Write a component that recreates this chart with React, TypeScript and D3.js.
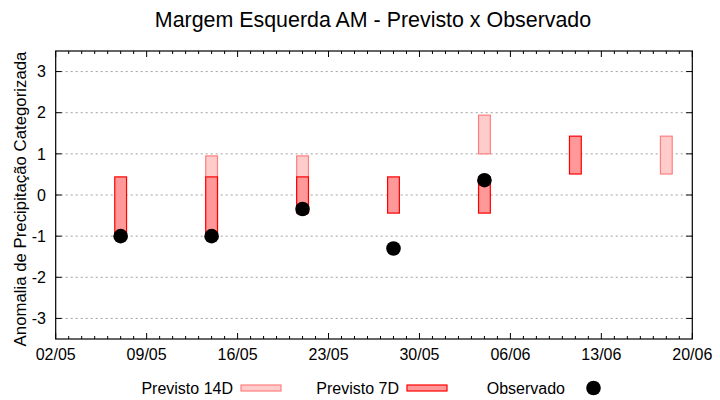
import * as d3 from 'd3';
import React from 'react';

const dates = ['2024-05-07', '2024-05-14', '2024-05-21', '2024-05-28', '2024-06-04', '2024-06-11', '2024-06-18'];
const previsto14Low: (number | null)[] = [null, -1, -0.44, null, 1.0, null, 0.51];
const previsto14High: (number | null)[] = [null, 0.95, 0.95, null, 1.94, null, 1.43];
const previsto7Low: (number | null)[] = [-1, -1, -0.44, -0.44, -0.44, 0.51, null];
const previsto7High: (number | null)[] = [0.44, 0.44, 0.44, 0.44, 0.44, 1.43, null];
const observado: (number | null)[] = [-1, -1, -0.34, -1.3, 0.36, null, null];
const yTickValues = [-3, -2, -1, 0, 1, 2, 3];
const xStart = '2024-05-02';
const xEnd = '2024-06-20';

const FONT = '"Liberation Sans", Arial, sans-serif';
const COL14 = { fill: '#ffcccc', stroke: '#ff7f7f' };
const COL7 = { fill: '#ff9999', stroke: '#ff0000' };

const App: React.FC = () => {
  const width = 720;
  const height = 400;
  const left = 55.7;
  const right = 692.3;
  const top = 51;
  const bottom = 339;

  const parse = d3.utcParse('%Y-%m-%d');
  const x = d3
    .scaleUtc()
    .domain([parse(xStart)!, parse(xEnd)!])
    .range([left, right]);
  const y = d3.scaleLinear().domain([-3.5, 3.5]).range([bottom, top]);

  const dayTicks = d3.utcDay.range(parse(xStart)!, d3.utcDay.offset(parse(xEnd)!, 1));
  const majorTicks = dayTicks.filter((d, i) => i % 7 === 0);
  const fmt = d3.utcFormat('%d/%m');

  const barRect = (dateStr: string, lo: number | null, hi: number | null, col: { fill: string; stroke: string }, key: string) => {
    if (lo === null || hi === null) return null;
    const d = parse(dateStr)!;
    const x0 = x(d3.utcHour.offset(d, -12)) + 0.6;
    const x1 = x(d3.utcHour.offset(d, 12)) - 0.6;
    return (
      <rect
        key={key}
        x={x0}
        y={y(hi)}
        width={x1 - x0}
        height={y(lo) - y(hi)}
        fill={col.fill}
        stroke={col.stroke}
        strokeWidth={1.2}
      />
    );
  };

  // legend layout (gnuplot-like horizontal key)
  const keyY = 388;
  const keySamples = [241, 407, 573];

  return (
    <svg
      width={width}
      height={height}
      style={{ position: 'absolute', left: 0, top: 0, background: '#fff' }}
      fontFamily={FONT}
    >
      <rect x={0} y={0} width={width} height={height} fill="#fff" />

      <text x={373} y={27} textAnchor="middle" fontSize={21.4}>
        Margem Esquerda AM - Previsto x Observado
      </text>

      {/* grid */}
      {yTickValues.map((t) => (
        <line
          key={`grid-${t}`}
          x1={left}
          x2={right}
          y1={y(t)}
          y2={y(t)}
          stroke="#a0a0a0"
          strokeWidth={1}
          strokeDasharray="2,3"
        />
      ))}

      {/* y ticks and labels */}
      {yTickValues.map((t) => (
        <g key={`yt-${t}`}>
          <line x1={left} x2={left + 6} y1={y(t)} y2={y(t)} stroke="#000" />
          <line x1={right} x2={right - 6} y1={y(t)} y2={y(t)} stroke="#000" />
          <text x={46} y={y(t)} dy="0.36em" textAnchor="end" fontSize={16}>
            {t}
          </text>
        </g>
      ))}

      {/* x ticks */}
      {dayTicks.map((d, i) => {
        const len = i % 7 === 0 ? 6 : 3;
        return (
          <g key={`xt-${i}`}>
            <line x1={x(d)} x2={x(d)} y1={bottom} y2={bottom - len} stroke="#000" />
            <line x1={x(d)} x2={x(d)} y1={top} y2={top + len} stroke="#000" />
          </g>
        );
      })}
      {majorTicks.map((d) => (
        <text key={`xl-${fmt(d)}`} x={x(d)} y={359.5} textAnchor="middle" fontSize={16}>
          {fmt(d)}
        </text>
      ))}

      {/* bars */}
      {dates.map((d, i) => barRect(d, previsto14Low[i], previsto14High[i], COL14, `p14-${i}`))}
      {dates.map((d, i) => barRect(d, previsto7Low[i], previsto7High[i], COL7, `p7-${i}`))}

      {/* observed */}
      {dates.map((d, i) =>
        observado[i] === null ? null : (
          <circle key={`obs-${i}`} cx={x(parse(d)!)} cy={y(observado[i] as number)} r={7.3} fill="#000" />
        )
      )}

      {/* border */}
      <rect x={left} y={top} width={right - left} height={bottom - top} fill="none" stroke="#000" strokeWidth={1.2} />

      <text transform={`translate(25.5,199) rotate(-90)`} textAnchor="middle" fontSize={16.8}>
        Anomalia de Precipitação Categorizada
      </text>

      {/* legend */}
      <text x={keySamples[0] - 8} y={keyY + 5.5} textAnchor="end" fontSize={16}>
        Previsto 14D
      </text>
      <rect x={keySamples[0]} y={keyY - 3} width={40} height={6} fill={COL14.fill} stroke={COL14.stroke} strokeWidth={1.2} />
      <text x={keySamples[1] - 8} y={keyY + 5.5} textAnchor="end" fontSize={16}>
        Previsto 7D
      </text>
      <rect x={keySamples[1]} y={keyY - 3} width={40} height={6} fill={COL7.fill} stroke={COL7.stroke} strokeWidth={1.2} />
      <text x={keySamples[2] - 8} y={keyY + 5.5} textAnchor="end" fontSize={16}>
        Observado
      </text>
      <circle cx={keySamples[2] + 20.5} cy={keyY} r={7.3} fill="#000" />
    </svg>
  );
};

export default App;
